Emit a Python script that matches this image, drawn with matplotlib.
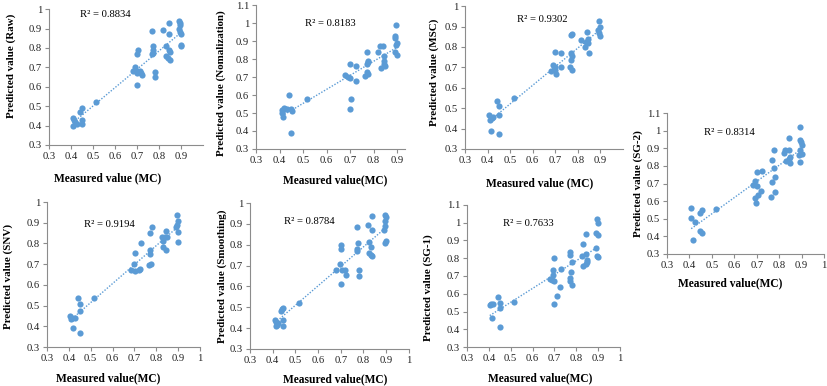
import numpy as np
import matplotlib
matplotlib.use("Agg")
import matplotlib.pyplot as plt

plt.rcParams['font.family'] = ['Liberation Serif', 'DejaVu Serif']

# ---------------- data ----------------
raw_x = [0.41, 0.41, 0.415, 0.42, 0.425, 0.44, 0.45, 0.45, 0.45, 0.515,
         0.68, 0.69, 0.70, 0.70, 0.70, 0.70, 0.705, 0.715, 0.72, 0.725,
         0.77, 0.775, 0.775, 0.77, 0.775, 0.78, 0.78,
         0.82, 0.83, 0.83, 0.84, 0.845, 0.845, 0.845, 0.85, 0.85,
         0.89, 0.895, 0.895, 0.89, 0.895, 0.9, 0.9, 0.9]
raw_y = [0.44, 0.40, 0.43, 0.42, 0.41, 0.47, 0.49, 0.43, 0.41, 0.52,
         0.68, 0.70, 0.67, 0.77, 0.61, 0.68, 0.79, 0.68, 0.67, 0.66,
         0.885, 0.81, 0.79, 0.77, 0.775, 0.675, 0.65,
         0.89, 0.81, 0.76, 0.75, 0.93, 0.87, 0.79, 0.78, 0.74,
         0.94, 0.93, 0.92, 0.90, 0.88, 0.87, 0.81, 0.815]

nor_x = [0.41, 0.41, 0.415, 0.42, 0.425, 0.43, 0.44, 0.45, 0.455, 0.45, 0.515,
         0.68, 0.69, 0.70, 0.70, 0.705, 0.70, 0.725, 0.725,
         0.77, 0.77, 0.775, 0.77, 0.765, 0.775, 0.775,
         0.82, 0.825, 0.84, 0.845, 0.845, 0.83, 0.845, 0.85,
         0.895, 0.89, 0.89, 0.895, 0.9, 0.89, 0.9]
nor_y = [0.517, 0.50, 0.48, 0.53, 0.525, 0.52, 0.60, 0.52, 0.51, 0.39, 0.58,
         0.71, 0.70, 0.695, 0.775, 0.577, 0.52, 0.68, 0.76,
         0.84, 0.775, 0.785, 0.73, 0.705, 0.715, 0.79,
         0.84, 0.875, 0.87, 0.815, 0.79, 0.75, 0.77, 0.76,
         0.99, 0.93, 0.915, 0.88, 0.89, 0.84, 0.82]

msc_x = [0.405, 0.41, 0.42, 0.425, 0.415, 0.44, 0.45, 0.45, 0.45, 0.515,
         0.68, 0.69, 0.70, 0.70, 0.705, 0.70, 0.725, 0.725,
         0.77, 0.775, 0.77, 0.77, 0.765, 0.775, 0.775,
         0.815, 0.83, 0.84, 0.845, 0.845, 0.85, 0.835,
         0.895, 0.9, 0.89, 0.895, 0.9]
msc_y = [0.467, 0.44, 0.45, 0.455, 0.39, 0.535, 0.51, 0.467, 0.375, 0.548,
         0.68, 0.71, 0.70, 0.775, 0.667, 0.685, 0.70, 0.77,
         0.86, 0.865, 0.77, 0.735, 0.70, 0.685, 0.755,
         0.835, 0.80, 0.875, 0.84, 0.82, 0.77, 0.825,
         0.925, 0.90, 0.885, 0.87, 0.855]

snv_x = [0.405, 0.41, 0.42, 0.43, 0.415, 0.44, 0.45, 0.45, 0.45, 0.515,
         0.685, 0.70, 0.705, 0.705, 0.72, 0.725, 0.73,
         0.77, 0.78, 0.77, 0.77, 0.775, 0.765,
         0.825, 0.83, 0.83, 0.845, 0.84, 0.85, 0.845,
         0.895, 0.9, 0.895, 0.89, 0.9, 0.9]
snv_y = [0.45, 0.435, 0.39, 0.44, 0.44, 0.535, 0.51, 0.475, 0.37, 0.535,
         0.67, 0.70, 0.755, 0.665, 0.67, 0.675, 0.80,
         0.85, 0.88, 0.77, 0.75, 0.70, 0.695,
         0.83, 0.81, 0.785, 0.86, 0.83, 0.83, 0.77,
         0.935, 0.91, 0.89, 0.88, 0.855, 0.805]

smo_x = [0.41, 0.415, 0.425, 0.415, 0.42, 0.435, 0.44, 0.445, 0.445, 0.445, 0.515,
         0.68, 0.695, 0.70, 0.70, 0.70, 0.705, 0.72, 0.725,
         0.77, 0.775, 0.77, 0.77, 0.78, 0.78,
         0.82, 0.825, 0.825, 0.835, 0.84, 0.84, 0.84, 0.835,
         0.895, 0.9, 0.895, 0.895, 0.89, 0.9, 0.895]
smo_y = [0.44, 0.43, 0.425, 0.41, 0.415, 0.48, 0.49, 0.495, 0.437, 0.412, 0.52,
         0.68, 0.71, 0.78, 0.80, 0.613, 0.677, 0.68, 0.655,
         0.883, 0.81, 0.78, 0.77, 0.68, 0.65,
         0.896, 0.815, 0.76, 0.752, 0.745, 0.936, 0.869, 0.79,
         0.945, 0.933, 0.912, 0.89, 0.873, 0.816, 0.808]

sg1_x = [0.404, 0.41, 0.42, 0.415, 0.44, 0.45, 0.45, 0.45, 0.515,
         0.68, 0.69, 0.695, 0.695, 0.70, 0.70, 0.70, 0.71, 0.725, 0.73,
         0.77, 0.77, 0.77, 0.77, 0.775, 0.78, 0.78,
         0.83, 0.825, 0.83, 0.845, 0.845, 0.85, 0.85, 0.845,
         0.895, 0.9, 0.89, 0.898, 0.89, 0.895, 0.9]
sg1_y = [0.535, 0.545, 0.545, 0.464, 0.58, 0.55, 0.52, 0.413, 0.554,
         0.685, 0.68, 0.733, 0.705, 0.672, 0.80, 0.545, 0.586, 0.64, 0.738,
         0.835, 0.82, 0.686, 0.672, 0.723, 0.78, 0.652,
         0.88, 0.81, 0.755, 0.937, 0.823, 0.78, 0.79, 0.765,
         1.02, 0.997, 0.94, 0.93, 0.86, 0.81, 0.808]

sg2_x = [0.408, 0.408, 0.426, 0.415, 0.445, 0.455, 0.448, 0.455, 0.518,
         0.683, 0.693, 0.70, 0.70, 0.693, 0.698, 0.705, 0.72, 0.725,
         0.765, 0.77, 0.775, 0.775, 0.78, 0.77, 0.78,
         0.822, 0.827, 0.83, 0.842, 0.842, 0.846, 0.846, 0.842,
         0.893, 0.893, 0.896, 0.893, 0.89, 0.9, 0.893, 0.9]
sg2_y = [0.563, 0.507, 0.484, 0.38, 0.535, 0.55, 0.428, 0.42, 0.554,
         0.69, 0.717, 0.685, 0.767, 0.616, 0.588, 0.635, 0.66, 0.77,
         0.625, 0.833, 0.893, 0.786, 0.738, 0.71, 0.653,
         0.874, 0.893, 0.83, 0.96, 0.888, 0.85, 0.814, 0.84,
         1.02, 0.95, 0.935, 0.89, 0.86, 0.87, 0.82, 0.92]

r2_labels = ["R\u00b2 = 0.8834", "R\u00b2 = 0.8183", "R\u00b2 = 0.9302",
             "R\u00b2 = 0.9194", "R\u00b2 = 0.8784", "R\u00b2 = 0.7633",
             "R\u00b2 = 0.8314"]
y_labels = ["Predicted value (Raw)", "Predicted value (Nomalization)",
            "Predicted value (MSC)", "Predicted value (SNV)",
            "Predicted value (Smoothing)", "Predicted value (SG-1)",
            "Predicted value (SG-2)"]
x_labels = ["Measured value (MC)", "Measured value(MC)", "Measured value (MC)",
            "Measured value(MC)", "Measured value(MC)", "Measured value(MC)",
            "Measured value(MC)"]
x_ticks_top = [0.3, 0.4, 0.5, 0.6, 0.7, 0.8, 0.9]
x_ticks_bot = [0.3, 0.4, 0.5, 0.6, 0.7, 0.8, 0.9, 1.0]
y_ticks_1 = [0.3, 0.4, 0.5, 0.6, 0.7, 0.8, 0.9, 1.0]
y_ticks_11 = [0.3, 0.4, 0.5, 0.6, 0.7, 0.8, 0.9, 1.0, 1.1]

# ---------------- layout ----------------
W, H = 827, 386
fig = plt.figure(figsize=(W / 100, H / 100), dpi=100)
blue = '#5B9BD5'
spine_c = '#8C8C8C'

panels = [
    # (x, y, rect, xmax, ymax, xticks, r2pos, ylabelpos, xlabelpos)
    (raw_x, raw_y, [0.0593, 0.6244, 0.186, 0.352], 1.0, 1.0, x_ticks_top, (0.44, 0.97), (-0.214, 0.58), (0.38, -0.2)),
    (nor_x, nor_y, [0.3096, 0.614, 0.180, 0.373], 0.933, 1.1, x_ticks_top, (0.51, 1.0), (-0.20, 0.46), (0.53, -0.174)),
    (msc_x, msc_y, [0.5623, 0.614, 0.191, 0.370], 1.0, 1.0, x_ticks_top, (0.53, 0.935), (-0.165, 0.54), (0.47, -0.196)),
    (snv_x, snv_y, [0.0568, 0.101, 0.185, 0.3756], 1.0, 1.0, x_ticks_bot, (0.47, 0.89), (-0.222, 0.49), (0.40, -0.175)),
    (smo_x, smo_y, [0.3023, 0.0959, 0.192, 0.378], 1.0, 1.0, x_ticks_bot, (0.45, 0.912), (-0.145, 0.5), (0.535, -0.165)),
    (sg1_x, sg1_y, [0.5647, 0.101, 0.185, 0.368], 1.0, 1.1, x_ticks_bot, (0.465, 0.996), (-0.222, 0.42), (0.48, -0.178)),
    (sg2_x, sg2_y, [0.8065, 0.342, 0.190, 0.365], 1.0, 1.1, x_ticks_bot, (0.463, 0.987), (-0.153, 0.5), (0.40, -0.163)),
]

for i, (xs, ys, rect, xmax, ymax, xt, r2pos, ylp, xlp) in enumerate(panels):
    ax = fig.add_axes(rect)
    xs = np.asarray(xs)
    ys = np.asarray(ys)
    ax.scatter(xs, ys, s=20, color=blue, zorder=3, linewidths=0)
    k, b = np.polyfit(xs, ys, 1)
    xl = np.array([xs.min(), xs.max()])
    ax.plot(xl, k * xl + b, linestyle=(0, (1, 1.2)), color=blue, lw=1.0, zorder=2)
    ax.set_xlim(0.3, xmax)
    ax.set_ylim(0.3, ymax)
    ax.set_xticks(xt)
    ax.set_xticklabels([('%g' % v) for v in xt])
    yt = y_ticks_11 if ymax > 1.05 else y_ticks_1
    ax.set_yticks(yt)
    ax.set_yticklabels([('%g' % v) for v in yt])
    for s in ['top', 'right']:
        ax.spines[s].set_visible(False)
    for s in ['left', 'bottom']:
        ax.spines[s].set_color(spine_c)
        ax.spines[s].set_linewidth(0.8)
    ax.tick_params(direction='out', length=3, width=0.8, color=spine_c,
                   labelsize=7.7, pad=2, labelcolor='#222222')
    ax.set_ylabel(y_labels[i], fontsize=7.9, fontweight='bold')
    ax.yaxis.set_label_coords(*ylp)
    ax.set_xlabel(x_labels[i], fontsize=8.3, fontweight='bold')
    ax.xaxis.set_label_coords(*xlp)
    ax.text(r2pos[0], r2pos[1], r2_labels[i], fontsize=7.7, va='center', ha='left')
    ax.patch.set_alpha(0)

fig.savefig('out.png', dpi=100)
